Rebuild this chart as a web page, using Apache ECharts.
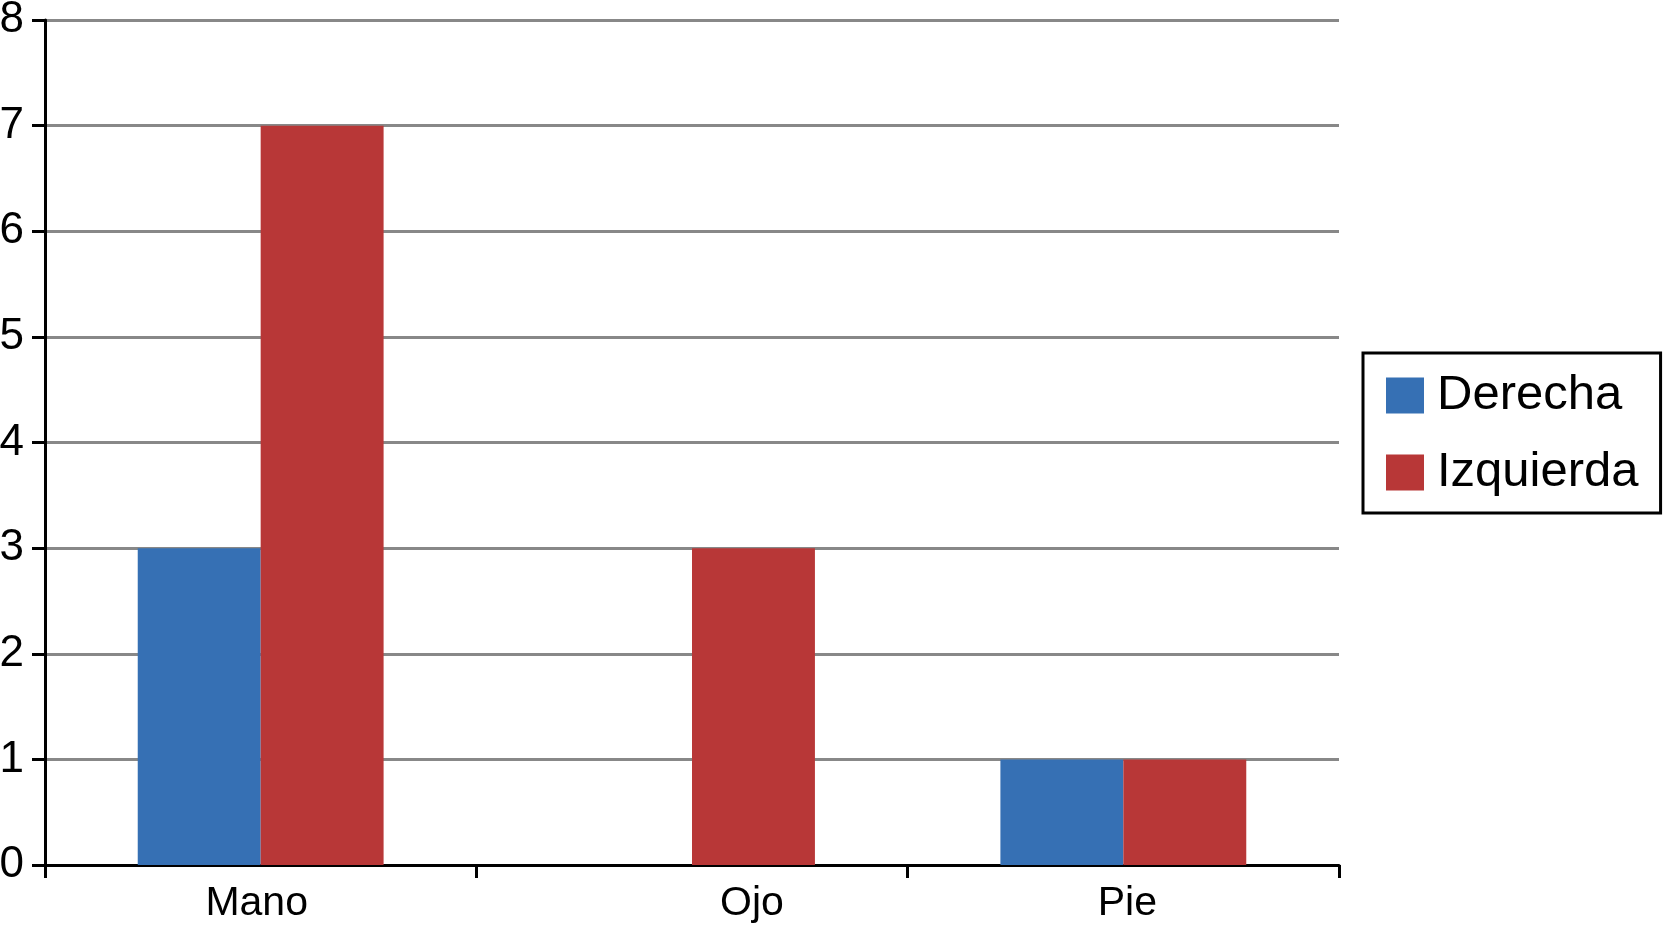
<!DOCTYPE html>
<html>
<head>
<meta charset="utf-8">
<script src="https://cdn.jsdelivr.net/npm/echarts@6/dist/echarts.min.js"></script>
<style>
html,body{margin:0;padding:0;background:#fff;}
#chart{width:1663px;height:927px;}
</style>
</head>
<body>
<div id="chart"></div>
<script>
const categories = ['Mano', 'Ojo', 'Pie'];
const derecha = [3, 0, 1];
const izquierda = [7, 3, 1];
const seriesNames = ['Derecha', 'Izquierda'];
const yTicks = { min: 0, max: 8, interval: 1 };

const FONT = '"Liberation Sans", Arial, Helvetica, sans-serif';
const labelStyle = { fontSize: 41, color: '#000', fontFamily: FONT };
const chart = echarts.init(document.getElementById('chart'), null, { renderer: 'canvas' });
chart.setOption({
  backgroundColor: '#ffffff',
  animation: false,
  grid: { left: 45, top: 20, right: 324, bottom: 62, containLabel: false, outerBoundsMode: 'none' },
  legend: {
    orient: 'vertical',
    left: 1363,
    top: 353,
    padding: [18, 22, 16, 23],
    borderColor: '#000',
    borderWidth: 3,
    itemWidth: 38,
    itemHeight: 36,
    itemGap: 28,
    icon: 'rect',
    textStyle: { fontSize: 49, color: '#000', fontFamily: FONT, padding: [0, 0, 0, 8] },
    data: seriesNames
  },
  xAxis: {
    type: 'category',
    data: categories,
    axisLine: { show: true, lineStyle: { color: '#000', width: 3 } },
    axisTick: { show: true, length: 13, lineStyle: { color: '#000', width: 3 } },
    axisLabel: {
      color: '#000', fontFamily: FONT, fontSize: 41, margin: 18,
      formatter: function (v) {
        if (v === 'Ojo') return '{o|' + v + '}';
        if (v === 'Mano') return '{m|' + v + '}';
        if (v === 'Pie') return '{p|' + v + '}';
        return v;
      },
      rich: {
        o: Object.assign({ padding: [0, 0, 0, 120] }, labelStyle),
        m: Object.assign({ padding: [0, 8, 0, 0] }, labelStyle),
        p: Object.assign({ padding: [0, 0, 0, 8] }, labelStyle)
      }
    },
    splitLine: { show: false }
  },
  yAxis: {
    type: 'value',
    min: yTicks.min,
    max: yTicks.max,
    interval: yTicks.interval,
    axisLine: { show: true, lineStyle: { color: '#000', width: 3 } },
    axisTick: { show: true, length: 13, lineStyle: { color: '#000', width: 3 } },
    axisLabel: { fontSize: 44, color: '#000', fontFamily: FONT, margin: 21 },
    splitLine: { show: true, lineStyle: { color: '#888888', width: 3 } }
  },
  series: [
    {
      name: seriesNames[0],
      type: 'bar',
      data: derecha,
      barGap: '0%',
      barCategoryGap: '43%',
      itemStyle: { color: '#3670B4' }
    },
    {
      name: seriesNames[1],
      type: 'bar',
      data: izquierda,
      barGap: '0%',
      barCategoryGap: '43%',
      itemStyle: { color: '#B83737' }
    }
  ]
});
</script>
</body>
</html>
